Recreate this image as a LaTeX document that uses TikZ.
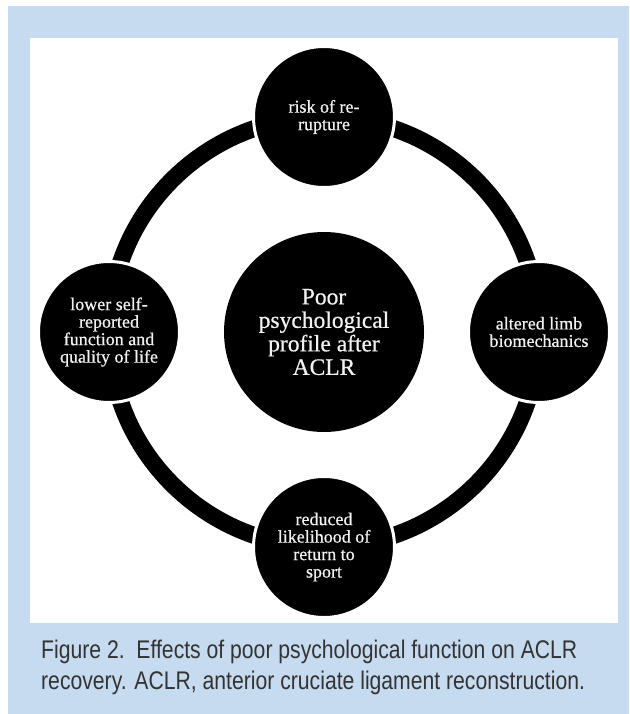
\documentclass[tikz,border=0pt]{standalone}
\usepackage{fontspec}
\setmainfont{Liberation Serif}
\newfontfamily\bubblefont[FakeBold=0.6]{Liberation Serif}
\newfontfamily\capfont[FakeStretch=0.83]{Liberation Sans}
\definecolor{bluebg}{RGB}{198,218,240}
\definecolor{captext}{RGB}{51,51,51}
\definecolor{bubbletext}{RGB}{242,242,242}
\tikzset{
  ring/.style={line width=17pt, draw=black},
  bubble/.style={circle, fill=black, draw=white, line width=3pt, minimum size=141pt,
    inner sep=0pt, text=bubbletext, align=center, font=\bubblefont\fontsize{18}{17.5}\selectfont},
  hub/.style={circle, fill=black, minimum size=200pt, inner sep=0pt, text=bubbletext,
    align=center, font=\bubblefont\fontsize{23.5}{23.5}\selectfont},
  captionline/.style={anchor=base west, inner sep=0pt, text=captext,
    font=\capfont\fontsize{25.5}{31}\selectfont}
}
\begin{document}
\begin{tikzpicture}[x=1pt,y=-1pt]
\useasboundingbox (0,0) rectangle (629,714);
\fill[white] (0,0) rectangle (629,714);
\fill[bluebg] (8,6) rectangle (629,714);
\fill[white] (30,38) rectangle (618,623);
% positions
\coordinate (ctr) at (324,332);
\coordinate (ptop) at (324,117);
\coordinate (pright) at (539,332);
\coordinate (pbottom) at (324,547);
\coordinate (pleft) at (109,332);
% ring connectors
\draw[ring] (ptop) arc[start angle=90, end angle=0, radius=215pt];
\draw[ring] (pright) arc[start angle=0, end angle=-90, radius=215pt];
\draw[ring] (pbottom) arc[start angle=-90, end angle=-180, radius=215pt];
\draw[ring] (pleft) arc[start angle=180, end angle=90, radius=215pt];
% nodes
\node[hub] (hub) at (ctr) {Poor\\psychological\\profile after\\ACLR};
\node[bubble] (top) at (ptop) {risk of re-\\rupture};
\node[bubble] (right) at (pright) {altered limb\\biomechanics};
\node[bubble] (bottom) at (pbottom) {reduced\\likelihood of\\return to\\sport};
\node[bubble] (left) at (pleft) {lower self-\\reported\\function and\\quality of life};
% caption
\node[captionline] (cap1) at (41,658) {Figure 2.\ \ Effects of poor psychological function on ACLR};
\node[captionline] (cap2) at (41,689) {recovery. ACLR, anterior cruciate ligament reconstruction.};
\end{tikzpicture}
\end{document}
